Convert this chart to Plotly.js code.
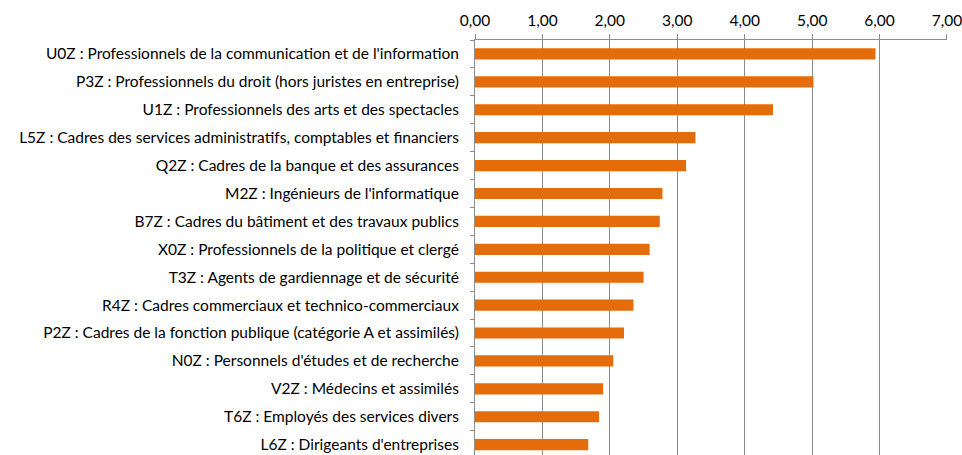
<!DOCTYPE html>
<html>
<head>
<meta charset="utf-8">
<script src="https://cdn.plot.ly/plotly-3.0.1.min.js"></script>
<style>html,body{margin:0;padding:0;background:#fff;overflow:hidden}</style>
</head>
<body>
<div id="chart" style="width:962px;height:455px"></div>
<script>
const categories = [
  "U0Z : Professionnels de la communication et de l'information",
  "P3Z : Professionnels du droit (hors juristes en entreprise)",
  "U1Z : Professionnels des arts et des spectacles",
  "L5Z : Cadres des services administratifs, comptables et financiers",
  "Q2Z : Cadres de la banque et des assurances",
  "M2Z : Ingénieurs de l'informatique",
  "B7Z : Cadres du bâtiment et des travaux publics",
  "X0Z : Professionnels de la politique et clergé",
  "T3Z : Agents de gardiennage et de sécurité",
  "R4Z : Cadres commerciaux et technico-commerciaux",
  "P2Z : Cadres de la fonction publique (catégorie A et assimilés)",
  "N0Z : Personnels d'études et de recherche",
  "V2Z : Médecins et assimilés",
  "T6Z : Employés des services divers",
  "L6Z : Dirigeants d'entreprises"
];
const values = [5.94, 5.02, 4.42, 3.27, 3.13, 2.78, 2.74, 2.59, 2.50, 2.35, 2.21, 2.05, 1.90, 1.84, 1.68];
const xTicks = [0, 1, 2, 3, 4, 5, 6, 7];

const trace = {
  type: 'bar',
  orientation: 'h',
  x: values,
  y: categories,
  marker: {color: '#E46C0A', line: {width: 0}},
  hoverinfo: 'x+y'
};

const layout = {
  width: 962,
  height: 455,
  margin: {l: 475, r: 15, t: 40, b: 0, pad: 0},
  paper_bgcolor: '#fff',
  plot_bgcolor: '#fff',
  separators: ', ',
  bargap: 0.6,
  showlegend: false,
  font: {family: 'Lato, sans-serif', size: 15.5, color: '#000'},
  xaxis: {
    side: 'top',
    range: [0, 7.0001],
    tickvals: xTicks,
    tickformat: '.2f',
    ticklabeloverflow: 'allow',
    showgrid: true,
    gridcolor: '#8c8c8c',
    gridwidth: 1,
    showline: true,
    linecolor: '#8c8c8c',
    linewidth: 1,
    ticks: 'outside',
    ticklen: 5,
    tickcolor: '#8c8c8c',
    ticklabelstandoff: 2,
    zeroline: false,
    fixedrange: true
  },
  yaxis: {
    type: 'category',
    range: [14.37, -0.5],
    tickson: 'boundaries',
    ticks: 'outside',
    ticklen: 4,
    tickcolor: '#8c8c8c',
    ticklabelstandoff: 12,
    showline: true,
    linecolor: '#8c8c8c',
    linewidth: 1,
    showgrid: false,
    zeroline: false,
    fixedrange: true
  }
};

Plotly.newPlot('chart', [trace], layout, {displayModeBar: false, staticPlot: true});
</script>
</body>
</html>
